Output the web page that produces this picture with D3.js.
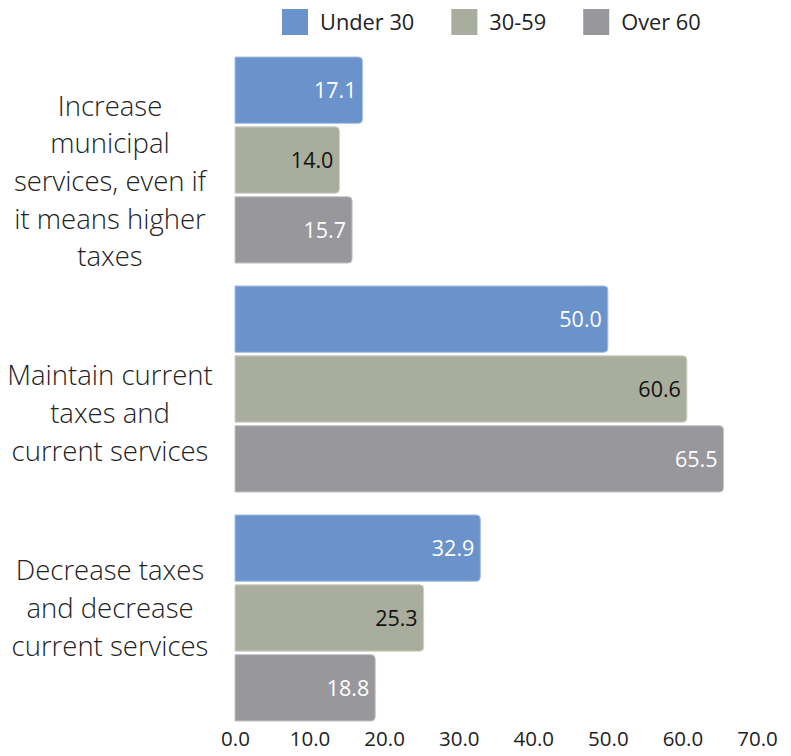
<!DOCTYPE html>
<html>
<head>
<meta charset="utf-8">
<script src="https://cdn.jsdelivr.net/npm/d3@7/dist/d3.min.js"></script>
<style>
  html, body { margin: 0; padding: 0; background: #fff; }
  svg { display: block; font-family: "Open Sans", "Noto Sans", sans-serif; }
</style>
</head>
<body>
<svg id="chart" width="791" height="756"></svg>
<script>
// Survey answers, grouped by respondent age
const categories = [
  "Increase municipal services, even if it means higher taxes",
  "Maintain current taxes and current services",
  "Decrease taxes and decrease current services"
];
const categoryLines = [
  ["Increase", "municipal", "services, even if", "it means higher", "taxes"],
  ["Maintain current", "taxes and", "current services"],
  ["Decrease taxes", "and decrease", "current services"]
];
const seriesNames = ["Under 30", "30-59", "Over 60"];
const under30 = [17.1, 50.0, 32.9];
const age30to59 = [14.0, 60.6, 25.3];
const over60 = [15.7, 65.5, 18.8];
const xTicks = [0, 10, 20, 30, 40, 50, 60, 70];

const seriesValues = [under30, age30to59, over60];
const colors = ["#6b93cb", "#a9ad9e", "#97979c"];
const strokes = ["#a9c0e2", "#cfd2c7", "#c3c3c7"];
const labelColors = ["#ffffff", "#111111", "#ffffff"];
// vertical shift of each category's label block relative to its band centre
const labelShift = [31, 34, 0];

const svg = d3.select("#chart");

const x = d3.scaleLinear().domain([0, 70]).range([235, 757]);
const y0 = d3.scaleBand().domain(categories).range([57, 721]).paddingInner(0.1).paddingOuter(0);
const y1 = d3.scaleBand().domain(seriesNames).range([0, y0.bandwidth()]).paddingInner(0.05);

const rows = categories.map((c, i) => ({
  cat: c,
  values: seriesNames.map((s, j) => ({ series: s, idx: j, value: seriesValues[j][i] }))
}));

// rounded-right bar path
function barPath(x0, x1, yt, h, r) {
  r = Math.min(r, (x1 - x0) / 2, h / 2);
  return `M${x0},${yt}H${x1 - r}Q${x1},${yt} ${x1},${yt + r}V${yt + h - r}Q${x1},${yt + h} ${x1 - r},${yt + h}H${x0}Z`;
}

const groups = svg.append("g").selectAll("g")
  .data(rows).join("g")
  .attr("transform", d => `translate(0,${y0(d.cat)})`);

groups.selectAll("path")
  .data(d => d.values).join("path")
  .attr("d", d => barPath(x(0), x(d.value), y1(d.series), y1.bandwidth(), 4))
  .attr("fill", d => colors[d.idx])
  .attr("stroke", d => strokes[d.idx])
  .attr("stroke-width", 1);

groups.selectAll("text.val")
  .data(d => d.values).join("text")
  .attr("class", "val")
  .attr("x", d => x(d.value) - 6)
  .attr("y", d => y1(d.series) + y1.bandwidth() / 2)
  .attr("dy", "0.36em")
  .attr("text-anchor", "end")
  .attr("font-size", 21.5)
  .attr("fill", d => labelColors[d.idx])
  .text(d => d.value.toFixed(1));

// category labels, multi-line and centred
const lineH = 37.7;
svg.append("g").selectAll("text")
  .data(rows).join("text")
  .attr("text-anchor", "middle")
  .attr("font-size", 27.5)
  .attr("font-weight", 300)
  .attr("fill", "#222")
  .each(function (d, i) {
    const lines = categoryLines[i];
    const mid = y0(d.cat) + y0.bandwidth() / 2 + labelShift[i];
    const first = mid - (lines.length - 1) / 2 * lineH;
    d3.select(this).selectAll("tspan")
      .data(lines).join("tspan")
      .attr("x", 110)
      .attr("y", (l, k) => first + k * lineH)
      .text(l => l);
  });

// x axis (labels only)
const xAxis = d3.axisBottom(x).tickValues(xTicks).tickFormat(d3.format(".1f")).tickSize(0).tickPadding(0);
const ax = svg.append("g").attr("transform", "translate(0,731)").call(xAxis);
ax.select(".domain").remove();
ax.selectAll("text").attr("font-size", 20.5).attr("fill", "#222")
  .attr("font-family", "'Open Sans', 'Noto Sans', sans-serif");

// legend
const legend = svg.append("g");
let lx = 282;
seriesNames.forEach((s, j) => {
  const g = legend.append("g").attr("transform", `translate(${lx},9)`);
  g.append("rect").attr("width", 26).attr("height", 26).attr("fill", colors[j]);
  const t = g.append("text").attr("x", 38).attr("y", 21)
    .attr("font-size", 21.8).attr("fill", "#222").text(s);
  lx += 38 + t.node().getComputedTextLength() + 37;
});
</script>
</body>
</html>
